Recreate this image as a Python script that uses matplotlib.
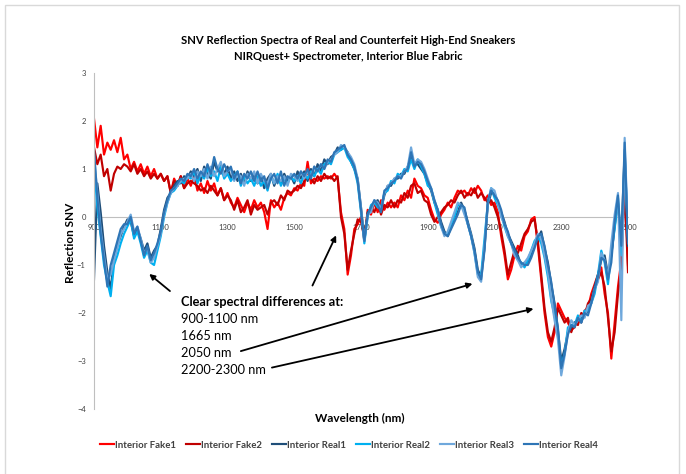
import numpy as np
import matplotlib
matplotlib.use('Agg')
import matplotlib.pyplot as plt
from matplotlib.patches import Rectangle

plt.rcParams['font.family'] = ['Lato', 'DejaVu Sans']

# wavelength grid, 10 nm steps
wl = np.arange(900, 2501, 10)

fake1 = [
    2.05, 1.45, 1.90, 1.30, 1.55, 1.40, 1.60, 1.35, 1.65, 1.20,
    1.30, 1.00, 1.15, 0.95, 1.10, 0.90, 1.05, 0.85, 1.00, 0.80,
    0.90, 0.75, 0.85, 0.50, 0.80, 0.65, 0.85, 0.60, 0.80, 0.65,
    0.85, 0.55, 0.70, 0.50, 0.75, 0.55, 0.70, 0.45, 0.60, 0.35,
    0.50, 0.30, 0.20, 0.40, 0.25, 0.10, 0.30, 0.15, 0.35, 0.20,
    0.30, 0.10, -0.25, 0.35, 0.20, 0.30, 0.15, 0.40, 0.50, 0.45,
    0.60, 0.55, 0.70, 0.65, 1.15, 0.70, 0.80, 0.75, 0.85, 0.80,
    0.85, 0.80, 0.90, 0.80, 0.10, -0.25, -1.20, -0.80, -0.25, -0.15,
    0.00, -0.50, 0.15, 0.05, 0.30, 0.10, 0.35, 0.15, 0.30, 0.20,
    0.30, 0.20, 0.45, 0.35, 0.55, 0.40, 0.80, 0.65, 0.60, 0.45,
    0.40, 0.15, -0.05, -0.12, 0.05, 0.15, 0.30, 0.20, 0.40, 0.55,
    0.50, 0.55, 0.45, 0.60, 0.50, 0.65, 0.55, 0.35, 0.45, 0.25,
    0.30, 0.10, -0.40, -0.80, -1.30, -1.10, -0.80, -0.60, -0.70, -0.40,
    -0.30, -0.05, 0.00, -0.60, -1.30, -2.00, -2.50, -2.70, -2.40, -1.80,
    -1.95, -2.10, -2.20, -2.35, -2.30, -2.10, -2.20, -1.95, -1.90, -1.60,
    -1.40, -1.20, -1.05, -1.60, -2.00, -2.95, -2.20, -1.45, -0.90, 1.05,
    -1.00]

fake2 = [
    1.45, 1.10, 1.30, 0.85, 1.00, 0.55, 0.90, 1.05, 1.00, 1.10,
    1.05, 0.95, 1.10, 0.90, 1.00, 0.85, 0.95, 0.80, 0.90, 0.80,
    0.90, 0.75, 0.85, 0.50, 0.75, 0.65, 0.85, 0.60, 0.70, 0.75,
    0.70, 0.65, 0.55, 0.60, 0.50, 0.65, 0.55, 0.45, 0.60, 0.35,
    0.45, 0.35, 0.15, 0.35, 0.10, 0.20, 0.35, 0.05, 0.25, 0.15,
    0.20, 0.25, 0.05, 0.30, 0.35, 0.25, 0.45, 0.35, 0.55, 0.50,
    0.55, 0.65, 0.60, 0.75, 0.95, 0.80, 0.70, 0.85, 0.75, 0.90,
    0.80, 0.85, 0.75, 0.85, 0.00, -0.35, -1.10, -0.70, -0.35, -0.05,
    -0.10, -0.40, 0.05, 0.20, 0.10, 0.30, 0.05, 0.25, 0.20, 0.35,
    0.20, 0.35, 0.30, 0.50, 0.40, 0.65, 0.70, 0.50, 0.55, 0.35,
    0.30, 0.05, -0.10, 0.00, 0.10, 0.20, 0.25, 0.35, 0.30, 0.45,
    0.55, 0.40, 0.50, 0.45, 0.60, 0.40, 0.50, 0.40, 0.30, 0.35,
    0.20, 0.00, -0.30, -0.70, -1.20, -0.95, -0.70, -0.75, -0.55, -0.35,
    -0.25, -0.10, -0.05, -0.50, -1.20, -1.90, -2.40, -2.60, -2.30, -1.90,
    -2.05, -2.20, -2.10, -2.40, -2.20, -2.25, -2.00, -2.05, -1.80, -1.70,
    -1.50, -1.30, -1.15, -1.45, -2.10, -2.80, -2.40, -1.60, -1.00, 0.60,
    -1.15]

real1 = [
    -1.30, 0.70, 0.10, -0.60, -1.15, -1.50, -0.85, -0.60, -0.40, -0.20,
    -0.05, -0.10, -0.40, -0.25, -0.45, -0.70, -0.55, -0.85, -0.70, -0.60,
    -0.25, 0.15, 0.40, 0.50, 0.65, 0.75, 0.70, 0.85, 0.80, 0.95,
    0.85, 1.00, 0.75, 1.05, 0.90, 0.80, 1.15, 0.95, 1.10, 0.90,
    1.05, 0.80, 0.95, 0.75, 0.90, 0.70, 0.95, 0.75, 0.90, 0.70,
    0.85, 0.60, 0.80, 0.90, 0.65, 0.85, 0.70, 0.90, 0.75, 0.85,
    0.70, 0.95, 0.80, 0.95, 0.75, 1.00, 0.85, 1.10, 0.95, 1.20,
    1.10, 1.25, 1.30, 1.45, 1.40, 1.45, 1.35, 1.15, 1.00, 0.80,
    0.20, -0.45, 0.10, 0.15, 0.30, 0.35, 0.15, 0.45, 0.65, 0.65,
    0.80, 0.80, 0.90, 0.90, 1.05, 1.25, 1.10, 1.10, 1.00, 0.90,
    0.70, 0.55, 0.30, 0.15, -0.10, -0.30, -0.40, -0.20, 0.00, 0.10,
    0.30, 0.15, -0.10, -0.35, -0.65, -1.10, -1.25, -0.65, 0.25, 0.50,
    0.50, 0.30, 0.10, -0.10, -0.35, -0.50, -0.65, -0.80, -1.00, -0.95,
    -0.95, -0.80, -0.60, -0.45, -0.30, -0.65, -0.95, -1.40, -1.80, -2.35,
    -3.00, -2.75, -2.40, -2.30, -2.20, -2.15, -2.10, -2.05, -1.95, -1.75,
    -1.45, -1.20, -0.90, -0.80, -1.20, -0.80, -0.20, 0.30, -0.50, 1.40,
    -0.60]

real2 = [
    1.10, 0.20, -0.40, -1.00, -1.35, -1.65, -1.00, -0.80, -0.55, -0.35,
    -0.20, -0.05, -0.45, -0.30, -0.55, -0.85, -0.70, -0.95, -1.00, -0.70,
    -0.40, 0.00, 0.30, 0.50, 0.55, 0.65, 0.75, 0.70, 0.85, 0.80,
    0.95, 0.70, 0.90, 0.80, 1.00, 0.85, 0.95, 0.75, 1.05, 0.80,
    0.90, 0.75, 0.85, 0.95, 0.65, 0.85, 0.70, 0.80, 0.65, 0.85,
    0.65, 0.75, 0.55, 0.85, 0.70, 0.90, 0.65, 0.80, 0.70, 0.85,
    0.75, 0.85, 0.70, 0.90, 0.80, 0.95, 0.85, 1.00, 0.90, 1.10,
    1.15, 1.10, 1.30, 1.35, 1.40, 1.45, 1.25, 1.15, 1.00, 0.70,
    0.10, -0.55, 0.00, 0.25, 0.30, 0.20, 0.20, 0.50, 0.55, 0.75,
    0.70, 0.90, 0.85, 1.00, 0.95, 1.20, 1.00, 1.20, 1.05, 0.90,
    0.65, 0.60, 0.30, 0.05, -0.20, -0.35, -0.35, -0.15, 0.00, 0.25,
    0.25, 0.10, -0.15, -0.40, -0.75, -1.20, -1.20, -0.45, 0.30, 0.60,
    0.40, 0.25, 0.05, -0.20, -0.40, -0.55, -0.75, -0.90, -0.95, -1.05,
    -0.90, -0.70, -0.50, -0.40, -0.55, -0.85, -1.25, -1.75, -2.05, -2.45,
    -3.10, -2.85, -2.30, -2.25, -2.25, -2.05, -2.20, -1.95, -1.95, -1.80,
    -1.60, -1.20, -0.70, -0.95, -1.40, -0.75, -0.25, 0.40, -0.80, 1.30,
    -0.50]

real3 = [
    1.30, 0.50, -0.25, -0.80, -1.30, -1.20, -0.90, -0.65, -0.35, -0.25,
    -0.10, 0.05, -0.30, -0.20, -0.45, -0.75, -0.65, -0.95, -0.85, -0.60,
    -0.35, 0.05, 0.30, 0.50, 0.60, 0.65, 0.75, 0.80, 0.80, 0.90,
    0.75, 0.95, 0.85, 1.00, 0.80, 1.05, 0.85, 1.00, 1.15, 0.85,
    0.95, 1.00, 0.75, 0.90, 0.85, 0.65, 0.90, 0.80, 0.95, 0.70,
    0.90, 0.75, 0.70, 0.90, 0.70, 0.85, 0.75, 0.85, 0.65, 0.90,
    0.85, 0.75, 0.95, 0.80, 0.95, 0.85, 1.05, 0.95, 1.10, 1.00,
    1.15, 1.20, 1.30, 1.35, 1.50, 1.45, 1.35, 1.25, 1.10, 0.80,
    0.20, -0.50, 0.05, 0.10, 0.35, 0.30, 0.15, 0.50, 0.65, 0.70,
    0.80, 0.85, 0.85, 0.95, 1.05, 1.45, 1.10, 1.20, 1.15, 1.00,
    0.80, 0.60, 0.35, 0.15, -0.20, -0.40, -0.30, -0.10, 0.10, 0.30,
    0.25, 0.05, -0.15, -0.40, -0.75, -1.25, -1.35, -0.60, 0.30, 0.60,
    0.55, 0.30, 0.00, -0.15, -0.40, -0.55, -0.80, -0.90, -1.05, -0.95,
    -0.85, -0.70, -0.55, -0.35, -0.45, -0.80, -1.15, -1.70, -2.15, -2.55,
    -3.30, -2.90, -2.40, -2.15, -2.25, -2.15, -2.05, -2.10, -1.85, -1.80,
    -1.50, -1.35, -0.75, -0.90, -1.25, -0.55, 0.05, 0.50, -2.15, 1.65,
    -0.40]

real4 = [
    1.40, 0.40, -0.35, -0.90, -1.45, -1.00, -0.75, -0.50, -0.25, -0.15,
    -0.15, 0.00, -0.35, -0.20, -0.50, -0.80, -0.60, -0.90, -0.75, -0.55,
    -0.30, 0.10, 0.35, 0.55, 0.60, 0.70, 0.80, 0.75, 0.90, 0.85,
    1.00, 0.80, 0.95, 0.85, 1.10, 0.90, 1.25, 1.00, 0.90, 1.10,
    0.95, 1.05, 0.80, 0.95, 0.70, 0.90, 0.80, 0.95, 0.75, 0.95,
    0.75, 0.85, 0.60, 0.80, 0.90, 0.70, 0.95, 0.65, 0.85, 0.80,
    0.90, 0.80, 0.95, 0.85, 1.00, 0.80, 1.05, 0.95, 1.10, 1.00,
    1.20, 1.15, 1.35, 1.40, 1.45, 1.50, 1.30, 1.20, 1.05, 0.75,
    0.15, -0.50, 0.05, 0.20, 0.35, 0.25, 0.10, 0.55, 0.60, 0.70,
    0.75, 0.85, 0.80, 0.95, 1.00, 1.35, 1.05, 1.15, 1.10, 0.95,
    0.75, 0.60, 0.35, 0.15, -0.15, -0.35, -0.40, -0.25, -0.10, 0.05,
    0.25, 0.20, -0.15, -0.40, -0.70, -1.15, -1.30, -0.70, 0.35, 0.55,
    0.45, 0.35, 0.15, -0.15, -0.30, -0.55, -0.70, -0.85, -0.95, -1.00,
    -1.00, -0.85, -0.65, -0.40, -0.35, -0.60, -1.00, -1.35, -1.85, -2.30,
    -3.15, -2.85, -2.45, -2.25, -2.30, -2.10, -2.20, -2.00, -2.05, -1.80,
    -1.50, -1.25, -0.85, -0.90, -1.30, -0.95, -0.10, 0.45, -0.60, 1.55,
    -0.55]

names = ['Interior Fake1', 'Interior Fake2', 'Interior Real1',
         'Interior Real2', 'Interior Real3', 'Interior Real4']
series = [fake1, fake2, real1, real2, real3, real4]
colors = ['#FF0000', '#C00000', '#1F4E79', '#00B0F0', '#6FA8DC', '#2E75B6']

W, H = 686, 474
fig = plt.figure(figsize=(W / 100, H / 100), dpi=100)
fig.patches.append(Rectangle((5 / W, -0.02), 674 / W, 1.02 - 5 / H,
                             transform=fig.transFigure, fill=False,
                             edgecolor='#D9D9D9', lw=1))

ax = fig.add_axes([94 / W, 1 - 409 / H, 534 / W, 336 / H])
for ys, name, c in zip(series, names, colors):
    ax.plot(wl, ys, color=c, lw=1.55, label=name)

ax.set_xlim(900, 2500)
ax.set_ylim(-4, 3)
ax.set_xticks(range(900, 2501, 200))
ax.set_yticks(range(-4, 4))
ax.spines['top'].set_visible(False)
ax.spines['right'].set_visible(False)
ax.spines['left'].set_color('#BFBFBF')
ax.spines['bottom'].set_color('#BFBFBF')
ax.spines['bottom'].set_position(('data', 0))
ax.spines['bottom'].set_zorder(0)
ax.tick_params(axis='both', length=0, labelsize=5.5, labelcolor='#404040')
ax.tick_params(axis='x', pad=5)
ax.tick_params(axis='y', pad=6)

# annotations
kw = dict(arrowstyle='-|>', color='black', lw=1.3, mutation_scale=8)
ax.annotate('', xy=(1059, -1.15), xytext=(1134, -1.58), arrowprops=kw)
ax.annotate('', xy=(1629, -0.33), xytext=(1551, -1.48), arrowprops=kw)
ax.annotate('', xy=(2042, -1.375), xytext=(1332, -2.81), arrowprops=kw)
ax.annotate('', xy=(2225, -1.9), xytext=(1425, -3.15), arrowprops=kw)

ax.text(1161, -1.77, 'Clear spectral differences at:', fontsize=9.2,
        fontweight='bold', va='center', ha='left')
for y, s in zip([-2.125, -2.48, -2.83, -3.19],
                ['900-1100 nm', '1665 nm', '2050 nm', '2200-2300 nm']):
    ax.text(1161, y, s, fontsize=9.2, va='center', ha='left')

fig.text(348 / W, 1 - 41 / H,
         'SNV Reflection Spectra of Real and Counterfeit High-End Sneakers',
         ha='center', va='center', fontsize=8.1, fontweight='bold')
fig.text(348 / W, 1 - 56 / H,
         'NIRQuest+ Spectrometer, Interior Blue Fabric',
         ha='center', va='center', fontsize=8.1, fontweight='bold')
fig.text(360 / W, 1 - 418 / H, 'Wavelength (nm)', ha='center', va='center',
         fontsize=8.5, fontweight='bold')
fig.text(71 / W, 1 - 243 / H, 'Reflection SNV', ha='center', va='center',
         rotation=90, fontsize=8.5, fontweight='bold')

leg = fig.legend(loc='center', bbox_to_anchor=(349 / W, 1 - 445 / H), ncol=6,
                 frameon=False, fontsize=6.9, handlelength=1.5,
                 handletextpad=0.1, columnspacing=1.0)
for t in leg.get_texts():
    t.set_fontweight('bold')
    t.set_color('#404040')

fig.savefig('out.png', dpi=100)
